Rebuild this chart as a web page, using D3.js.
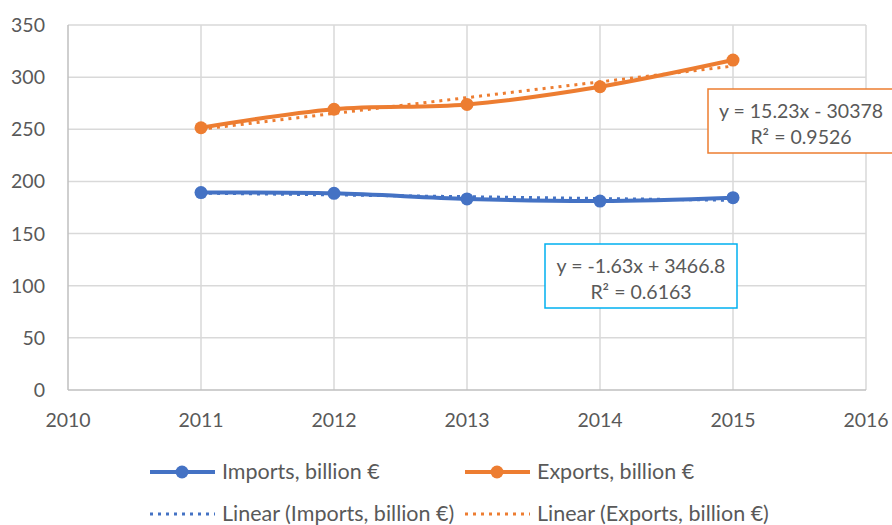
<!DOCTYPE html>
<html>
<head>
<meta charset="utf-8">
<script src="https://cdnjs.cloudflare.com/ajax/libs/d3/7.8.5/d3.min.js"></script>
<style>
  body { margin: 0; background: #fff; }
  svg { display: block; font-family: Lato, "Open Sans", sans-serif; }
</style>
</head>
<body>
<div id="chart"></div>
<script>
var years = [2011, 2012, 2013, 2014, 2015];
var imports = [189.3, 188.6, 183.2, 181.2, 184.4];
var exports = [251.5, 269.2, 273.8, 290.8, 316.4];
var xTicks = [2010, 2011, 2012, 2013, 2014, 2015, 2016];
var yTicks = [0, 50, 100, 150, 200, 250, 300, 350];
var seriesNames = ["Imports, billion €", "Exports, billion €"];
var trendNames = ["Linear (Imports, billion €)", "Linear (Exports, billion €)"];
var eqImports = ["y = -1.63x + 3466.8", "R² = 0.6163"];
var eqExports = ["y = 15.23x - 30378", "R² = 0.9526"];
var colors = ["#4472c4", "#ed7d31"];

var width = 892, height = 525;
var svg = d3.select("#chart").append("svg")
  .attr("width", width)
  .attr("height", height);

var x = d3.scaleLinear().domain([2010, 2016]).range([68, 866]);
var y = d3.scaleLinear().domain([0, 350]).range([390, 25]);

// grid
svg.append("g").selectAll("line.h")
  .data(yTicks.slice(1))
  .enter().append("line")
  .attr("x1", x(2010)).attr("x2", x(2016))
  .attr("y1", function(d) { return y(d); })
  .attr("y2", function(d) { return y(d); })
  .attr("stroke", "#d9d9d9").attr("stroke-width", 1.5);

svg.append("g").selectAll("line.v")
  .data(xTicks.slice(1))
  .enter().append("line")
  .attr("x1", function(d) { return x(d); })
  .attr("x2", function(d) { return x(d); })
  .attr("y1", y(0)).attr("y2", y(350))
  .attr("stroke", "#d9d9d9").attr("stroke-width", 1.5);

// axes lines
svg.append("line")
  .attr("x1", x(2010)).attr("x2", x(2010))
  .attr("y1", y(0)).attr("y2", y(350))
  .attr("stroke", "#bfbfbf").attr("stroke-width", 1.5);
svg.append("line")
  .attr("x1", x(2010)).attr("x2", x(2016))
  .attr("y1", y(0)).attr("y2", y(0))
  .attr("stroke", "#bfbfbf").attr("stroke-width", 1.5);

// tick labels
svg.append("g").selectAll("text")
  .data(yTicks)
  .enter().append("text")
  .attr("x", 45)
  .attr("y", function(d) { return y(d) + 7; })
  .attr("text-anchor", "end")
  .attr("font-size", 19.5)
  .attr("fill", "#595959")
  .text(function(d) { return d; });

svg.append("g").selectAll("text")
  .data(xTicks)
  .enter().append("text")
  .attr("x", function(d) { return x(d); })
  .attr("y", 427)
  .attr("text-anchor", "middle")
  .attr("font-size", 19.5)
  .attr("fill", "#595959")
  .text(function(d) { return d; });

// linear fit
function fit(vals) {
  var mx = d3.mean(years), my = d3.mean(vals);
  var num = d3.sum(years, function(t, i) { return (t - mx) * (vals[i] - my); });
  var den = d3.sum(years, function(t) { return (t - mx) * (t - mx); });
  var b = num / den;
  return function(t) { return my + b * (t - mx); };
}

var allSeries = [imports, exports];

allSeries.forEach(function(vals, k) {
  var f = fit(vals);
  var ends = [years[0], years[years.length - 1]];
  svg.append("line")
    .attr("x1", x(ends[0])).attr("y1", y(f(ends[0])))
    .attr("x2", x(ends[1])).attr("y2", y(f(ends[1])))
    .attr("stroke", colors[k])
    .attr("stroke-width", 3)
    .attr("stroke-dasharray", "3 5");
});

var line = d3.line()
  .x(function(d) { return x(d[0]); })
  .y(function(d) { return y(d[1]); })
  .curve(d3.curveCatmullRom.alpha(0.5));

allSeries.forEach(function(vals, k) {
  var pts = years.map(function(t, i) { return [t, vals[i]]; });
  svg.append("path")
    .datum(pts)
    .attr("d", line)
    .attr("fill", "none")
    .attr("stroke", colors[k])
    .attr("stroke-width", 4)
    .attr("stroke-linecap", "round");
  svg.append("g").selectAll("circle")
    .data(pts)
    .enter().append("circle")
    .attr("cx", function(d) { return x(d[0]); })
    .attr("cy", function(d) { return y(d[1]); })
    .attr("r", 6.5)
    .attr("fill", colors[k]);
});

// equation boxes
function eqBox(lines, bx, by, bw, bh, stroke, cx) {
  svg.append("rect")
    .attr("x", bx).attr("y", by)
    .attr("width", bw).attr("height", bh)
    .attr("fill", "#fff")
    .attr("stroke", stroke)
    .attr("stroke-width", 1.5);
  svg.append("g").selectAll("text")
    .data(lines)
    .enter().append("text")
    .attr("x", cx)
    .attr("y", function(d, i) { return by + 29 + i * 26; })
    .attr("text-anchor", "middle")
    .attr("font-size", 19.5)
    .attr("fill", "#595959")
    .text(function(d) { return d; });
}
eqBox(eqExports, 708, 89, 190, 64, "#ed7d31", 801);
eqBox(eqImports, 545, 244, 192, 64, "#00b0f0", 641);

// legend
var legX = [150, 465];
var legend = svg.append("g");
seriesNames.forEach(function(name, k) {
  var lx = legX[k], ly = 472;
  legend.append("line")
    .attr("x1", lx).attr("x2", lx + 65)
    .attr("y1", ly).attr("y2", ly)
    .attr("stroke", colors[k]).attr("stroke-width", 4);
  legend.append("circle")
    .attr("cx", lx + 32).attr("cy", ly).attr("r", 6.5)
    .attr("fill", colors[k]);
  legend.append("text")
    .attr("x", lx + 72).attr("y", ly + 7)
    .attr("font-size", 21.5).attr("fill", "#595959")
    .text(name);
});
trendNames.forEach(function(name, k) {
  var lx = legX[k], ly = 514;
  legend.append("line")
    .attr("x1", lx).attr("x2", lx + 65)
    .attr("y1", ly).attr("y2", ly)
    .attr("stroke", colors[k]).attr("stroke-width", 3)
    .attr("stroke-dasharray", "3 5");
  legend.append("text")
    .attr("x", lx + 72).attr("y", ly + 7)
    .attr("font-size", 21.5).attr("fill", "#595959")
    .text(name);
});
</script>
</body>
</html>
